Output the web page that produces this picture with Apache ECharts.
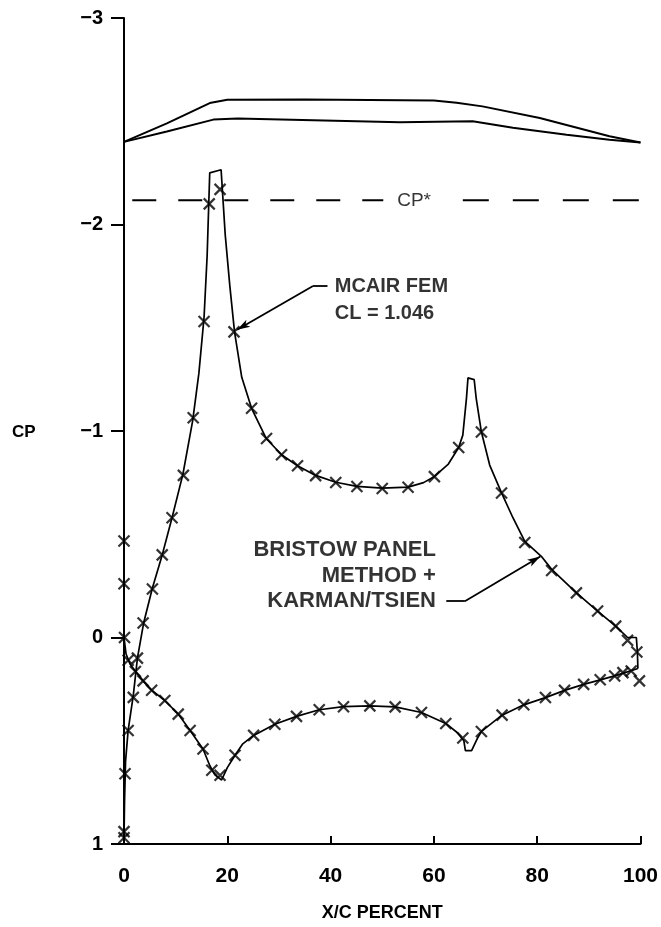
<!DOCTYPE html>
<html>
<head>
<meta charset="utf-8">
<script src="https://cdn.jsdelivr.net/npm/echarts@6/dist/echarts.min.js"></script>
<style>
  html, body { margin: 0; padding: 0; background: #fff; }
  #chart { width: 661px; height: 927px; }
</style>
</head>
<body>
<div id="chart"></div>
<script>
// x/c percent, cp pairs
const topOuter = [[0,-2.40],[8.3,-2.49],[16.6,-2.588],[20,-2.604],[35,-2.605],[60,-2.60],[64.4,-2.59],[69.4,-2.572],[80.5,-2.516],[94,-2.427],[100,-2.397]];
const topInner = [[0,-2.40],[8.3,-2.45],[17.3,-2.508],[22,-2.513],[53.4,-2.495],[67.5,-2.50],[75.3,-2.468],[85.7,-2.435],[94,-2.41],[100,-2.397]];
const cpStar = -2.117;

// bristow panel method + karman/tsien (solid line)
const panelUpper = [[0,0.97],[0.1,0.8],[0.3,0.6],[0.8,0.45],[1.8,0.28],[2.6,0.10],[3.8,-0.07],[5.5,-0.24],[7.4,-0.40],[9.3,-0.58],
  [11.4,-0.79],[13.3,-1.05],[14.5,-1.28],[15.5,-1.55],[16.1,-1.85],[16.6,-2.25],[18.8,-2.265],[19.6,-1.95],[20.5,-1.70],[21.4,-1.48],
  [22.8,-1.26],[24.7,-1.11],[27.5,-0.965],[30.5,-0.885],[33.6,-0.832],[37.1,-0.785],[41.0,-0.752],[45.1,-0.732],[50.0,-0.723],[55.0,-0.728],
  [58,-0.75],[60.1,-0.78],[62.8,-0.84],[64.8,-0.92],[65.6,-0.98],[66.3,-1.157],[66.6,-1.257],[67.8,-1.249],[68.2,-1.157],[69.2,-0.995],
  [70.8,-0.835],[73.1,-0.70],[75.3,-0.58],[77.6,-0.465],[80.8,-0.393],[82.8,-0.33],[87.6,-0.216],[91.7,-0.128],[95.2,-0.055],[97.5,0.0],
  [99.2,0.0],[99.4,0.07],[99.5,0.15]];
const panelLower = [[0,0.0],[0.4,0.08],[1.2,0.13],[2.4,0.17],[3.7,0.21],[5.35,0.255],[7.9,0.305],[10.5,0.371],[12.8,0.45],[15.3,0.54],
  [16.6,0.62],[17.6,0.665],[18.9,0.69],[20,0.63],[21.5,0.57],[23,0.515],[25.1,0.474],[29.2,0.42],[33.4,0.382],[37.8,0.35],
  [42.5,0.335],[47.6,0.331],[52.5,0.336],[57.6,0.363],[62.3,0.416],[64.5,0.46],[65.8,0.5],[66.1,0.548],[67.3,0.548],[68.4,0.49],
  [69.2,0.455],[73.2,0.376],[77.4,0.326],[81.6,0.291],[85.3,0.256],[89.0,0.227],[92.2,0.205],[95.0,0.186],[97.0,0.17],[99.5,0.15]];

// mcair fem (x marks)
const femUpper = [[0,0.94],[0,0.97],[0.2,0.66],[0.8,0.45],[1.8,0.29],[2.6,0.10],[3.7,-0.07],[5.5,-0.235],[7.4,-0.40],[9.3,-0.58],
  [11.5,-0.785],[13.4,-1.064],[15.5,-1.53],[16.5,-2.10],[18.6,-2.17],[21.3,-1.48],[24.7,-1.11],[27.6,-0.964],[30.5,-0.885],[33.6,-0.832],
  [37.1,-0.784],[41.0,-0.751],[45.1,-0.731],[50.0,-0.722],[55.0,-0.728],[60.1,-0.779],[64.8,-0.92],[69.2,-0.995],[73.1,-0.70],[77.6,-0.46],
  [82.8,-0.324],[87.6,-0.216],[91.7,-0.128],[95.2,-0.055],[97.5,0.014],[99.3,0.07]];
const femLower = [[0,-0.467],[0,-0.26],[0.1,0.0],[0.8,0.11],[2.2,0.165],[3.7,0.21],[5.35,0.255],[7.9,0.305],[10.5,0.371],[12.8,0.45],
  [15.3,0.54],[17.0,0.643],[18.6,0.667],[21.5,0.57],[25.1,0.474],[29.2,0.42],[33.4,0.382],[37.8,0.35],[42.5,0.335],[47.6,0.331],
  [52.5,0.336],[57.6,0.363],[62.3,0.416],[65.6,0.487],[69.2,0.455],[73.2,0.376],[77.4,0.326],[81.6,0.291],[85.3,0.256],[89.0,0.227],
  [92.2,0.205],[95.0,0.186],[96.6,0.17],[98.2,0.162],[99.8,0.21]];

const xTicks = [0, 20, 40, 60, 80, 100];
const yTicks = [-3, -2, -1, 0, 1];

const FONT = 'Liberation Sans';
const INK = '#000';
const chart = echarts.init(document.getElementById('chart'), null, { renderer: 'canvas' });

const solid = { color: INK, width: 1.7 };
const xMark = 'path://M0,0L10,10M10,0L0,10';

function lineSeries(data, style) {
  return {
    type: 'line', data: data, showSymbol: false, symbol: 'none',
    lineStyle: style || solid, clip: false, silent: true, animation: false, z: 3
  };
}
function femSeries(data) {
  return {
    type: 'scatter', data: data, symbol: xMark, symbolSize: 11, clip: false,
    itemStyle: { color: 'rgba(0,0,0,0)', borderColor: INK, borderWidth: 2.2 },
    silent: true, animation: false, z: 4
  };
}
function note(x, y, text, align, extra) {
  return {
    value: [x, y],
    label: Object.assign({
      show: true, formatter: text, position: [0, 0], align: align, verticalAlign: 'middle',
      color: INK, fontFamily: FONT, fontWeight: 'bold', fontSize: 20, textBorderWidth: 0
    }, extra || {})
  };
}

const option = {
  backgroundColor: '#fff',
  animation: false,
  grid: { left: 124, right: 20, top: 18, bottom: 80 },
  xAxis: {
    type: 'value', min: 0, max: 100, interval: 20,
    name: 'X/C PERCENT', nameLocation: 'middle', nameGap: 60,
    nameTextStyle: { fontFamily: FONT, fontWeight: 'bold', fontSize: 18, color: INK },
    axisLine: { onZero: false, lineStyle: { color: INK, width: 2 } },
    axisTick: { inside: true, length: 8, lineStyle: { color: INK, width: 2 } },
    axisLabel: { margin: 22, fontFamily: FONT, fontWeight: 'bold', fontSize: 21, color: INK,
      formatter: v => xTicks.includes(v) ? String(v) : '' },
    splitLine: { show: false }
  },
  yAxis: {
    type: 'value', min: -3, max: 1, interval: 1, inverse: true,
    axisLine: { onZero: false, lineStyle: { color: INK, width: 2 } },
    axisTick: { length: 13, lineStyle: { color: INK, width: 2 } },
    axisLabel: { margin: 21, fontFamily: FONT, fontWeight: 'bold', fontSize: 20, color: INK,
      formatter: v => yTicks.includes(v) ? String(v).replace('-', '\u2212') : '' },
    splitLine: { show: false }
  },
  graphic: [{
    type: 'text', left: 12, top: 424,
    style: { text: 'CP', font: 'bold 17px "Liberation Sans"', fill: INK }
  }],
  series: [
    lineSeries(topOuter, { color: INK, width: 2 }),
    lineSeries(topInner, { color: INK, width: 2 }),
    lineSeries([[1.6, cpStar], [50.2, cpStar]], { color: INK, width: 2, type: [24, 22] }),
    lineSeries([[65.6, cpStar], [100, cpStar]], { color: INK, width: 2, type: [26, 24] }),
    lineSeries(panelUpper),
    lineSeries(panelLower),
    femSeries(femUpper),
    femSeries(femLower),
    {
      type: 'scatter', symbolSize: 0, silent: true, z: 5,
      itemStyle: { color: INK },
      data: [
        note(40.8, -1.70, 'MCAIR FEM', 'left'),
        note(40.8, -1.57, 'CL = 1.046', 'left'),
        note(60.4, -0.425, 'BRISTOW PANEL', 'right', { fontSize: 22 }),
        note(60.4, -0.298, 'METHOD +', 'right', { fontSize: 22 }),
        note(60.4, -0.176, 'KARMAN/TSIEN', 'right', { fontSize: 22 }),
        note(52.9, cpStar, 'CP*', 'left', { fontWeight: 'normal', fontSize: 19 })
      ],
      markLine: {
        silent: true, symbol: ['none', 'none'], label: { show: false },
        lineStyle: { color: INK, width: 1.8, type: 'solid' },
        data: [
          [{ coord: [39.4, -1.702] }, { coord: [36.6, -1.702] }],
          [{ coord: [36.6, -1.702] }, { coord: [21.9, -1.49], symbol: 'arrow', symbolSize: [6, 13] }],
          [{ coord: [62.4, -0.176] }, { coord: [66.0, -0.176] }],
          [{ coord: [66.0, -0.176] }, { coord: [80.6, -0.392], symbol: 'arrow', symbolSize: [6, 13] }]
        ]
      }
    }
  ]
};

chart.setOption(option);
window.addEventListener('resize', chart.resize);
</script>
</body>
</html>
